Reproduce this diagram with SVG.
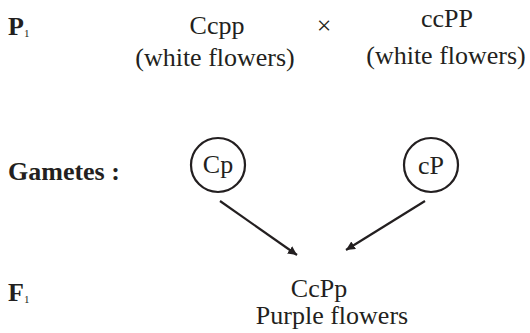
<svg xmlns="http://www.w3.org/2000/svg" width="530" height="333" viewBox="0 0 530 333">
<style>
text{font-family:"Liberation Serif","Times New Roman",serif;fill:#231f20;font-size:26px}
.b{font-weight:bold}
.sub{font-size:11px}
.m{text-anchor:middle}
.c{fill:#fff;stroke:#231f20;stroke-width:2.2}
.e{stroke:#231f20;stroke-width:2.2;fill:none}
</style>
<defs>
<marker id="ah" viewBox="0 0 10 10" refX="10" refY="5" markerWidth="9" markerHeight="9" markerUnits="userSpaceOnUse" orient="auto">
<path d="M0,0 L10,5 L0,10 z" fill="#231f20"/>
</marker>
</defs>
<rect width="530" height="333" fill="#fff"/>
<g id="labels">
<text x="8" y="35" class="b">P<tspan class="sub" font-weight="normal" dy="2">1</tspan></text>
<text x="8" y="180" class="b">Gametes :</text>
<text x="8" y="301" class="b">F<tspan class="sub" font-weight="normal" dy="2">1</tspan></text>
</g>
<g id="parent1">
<text x="217" y="34" class="m">Ccpp</text>
<text x="215" y="66" class="m">(white flowers)</text>
</g>
<g id="cross"><text x="324" y="34" class="m">×</text></g>
<g id="parent2">
<text x="447" y="27" class="m">ccPP</text>
<text x="446" y="64" class="m">(white flowers)</text>
</g>
<g id="gamete1">
<circle cx="218" cy="165" r="27" class="c"/>
<text x="218" y="173" class="m">Cp</text>
</g>
<g id="gamete2">
<circle cx="431" cy="165" r="27" class="c"/>
<text x="431" y="174" class="m">cP</text>
</g>
<g id="connectors">
<line x1="220" y1="201" x2="297" y2="255" class="e" marker-end="url(#ah)"/>
<line x1="425" y1="201" x2="346" y2="250" class="e" marker-end="url(#ah)"/>
</g>
<g id="f1">
<text x="319" y="297" class="m">CcPp</text>
<text x="332" y="324" class="m">Purple flowers</text>
</g>
</svg>
